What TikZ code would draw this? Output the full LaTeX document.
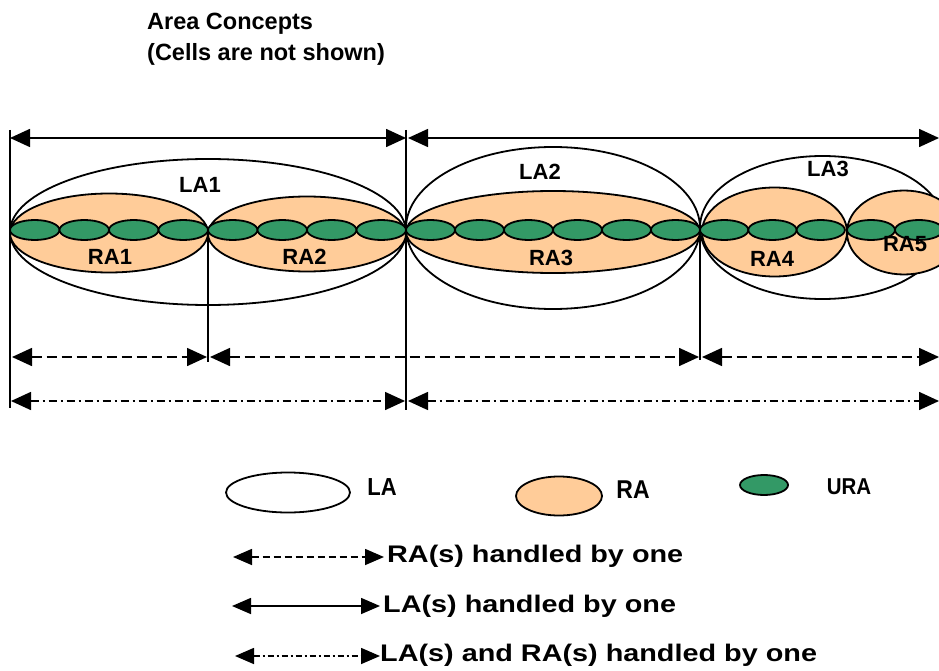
\documentclass[tikz,border=0pt]{standalone}
\usepackage{fontspec}
\setmainfont{Liberation Sans}
\newfontfamily\legfont[FakeStretch=1.2]{Liberation Sans Bold}
\usetikzlibrary{arrows.meta,shapes.geometric}
\definecolor{raorange}{RGB}{255,204,153}
\definecolor{uragreen}{RGB}{51,153,102}
\tikzset{
  base/.style={ellipse, draw=black, line width=1.8pt, inner sep=0pt, outer sep=0pt},
  laell/.style={base},
  raell/.style={base, fill=raorange},
  uraell/.style={base, fill=uragreen, minimum height=20pt},
  lbl/.style={font=\bfseries\fontsize{22}{24}\selectfont, inner sep=0pt},
  leglbl/.style={font=\bfseries\fontsize{22}{24}\selectfont, inner sep=0pt, yscale=1.12},
  legtxt/.style={font=\legfont\fontsize{24}{26}\selectfont, inner sep=0pt, anchor=base west},
  ttl/.style={font=\bfseries\fontsize{23.5}{25}\selectfont, inner sep=0pt, anchor=base west},
  vline/.style={line width=1.6pt},
  arr/.style={line width=1.6pt, {Triangle[length=20pt,width=18pt]}-{Triangle[length=20pt,width=18pt]}},
  larr/.style={line width=1.6pt, {Triangle[length=19pt,width=16pt]}-{Triangle[length=19pt,width=16pt]}},
  dsh/.style={dash pattern=on 10pt off 5pt},
  dshdot/.style={dash pattern=on 8pt off 4pt on 2pt off 4pt},
  ldsh/.style={dash pattern=on 7pt off 4pt},
  ldshdot/.style={dash pattern=on 6pt off 3pt on 2pt off 3pt}
}
\begin{document}
\begin{tikzpicture}[x=1pt,y=-1pt]
\useasboundingbox (0,0) rectangle (939,671);
\clip (0,0) rectangle (939,671);
% title
\node[ttl] (t1) at (147,30) {Area Concepts};
\node[ttl] (t2) at (147,61) {(Cells are not shown)};
% LA ellipses
\node[laell, minimum width=396pt, minimum height=146pt] (la1) at (208,232) {};
\node[laell, minimum width=294pt, minimum height=162pt] (la2) at (553,228) {};
\node[laell, minimum width=245pt, minimum height=143pt] (la3) at (822.5,227.5) {};
% RA ellipses
\node[raell, minimum width=198pt, minimum height=79pt] (ra1) at (109,233) {};
\node[raell, minimum width=198pt, minimum height=75pt] (ra2) at (307,234) {};
\node[raell, minimum width=294pt, minimum height=82pt] (ra3) at (553,232) {};
\node[raell, minimum width=145pt, minimum height=89pt] (ra4) at (774.5,232) {};
\node[raell, minimum width=114pt, minimum height=84pt] (ra5) at (904,232.5) {};
% URA ellipses
\foreach \i in {0,...,3} {
  \node[uraell, minimum width=49.5pt] (ua\i) at ({10+24.75+49.5*\i},230) {};
  \node[uraell, minimum width=49.5pt] (ub\i) at ({208+24.75+49.5*\i},230) {};
}
\foreach \i in {0,...,5} {
  \node[uraell, minimum width=49pt] (uc\i) at ({406+24.5+49*\i},230) {};
}
\foreach \i in {0,...,2} {
  \node[uraell, minimum width=48.3pt] (ud\i) at ({700+24.15+48.3*\i},230) {};
}
\foreach \i in {0,...,1} {
  \node[uraell, minimum width=48pt] (ue\i) at ({847+24+48*\i},230) {};
}
% labels
\node[lbl] (l1) at (200,184.5) {LA1};
\node[lbl] (l2) at (540,172) {LA2};
\node[lbl] (l3) at (828,168.5) {LA3};
\node[lbl] (r1) at (110,257) {RA1};
\node[lbl] (r2) at (304.5,257) {RA2};
\node[lbl] (r3) at (551,258) {RA3};
\node[lbl] (r4) at (772,259) {RA4};
\node[lbl] (r5) at (905,244.5) {RA5};
% vertical lines
\coordinate (v1a) at (10,130); \coordinate (v1b) at (10,408);
\coordinate (v2a) at (208,230); \coordinate (v2b) at (208,362);
\coordinate (v3a) at (406,130); \coordinate (v3b) at (406,410);
\coordinate (v4a) at (700,230); \coordinate (v4b) at (700,360);
\draw[vline] (v1a) -- (v1b);
\draw[vline] (v2a) -- (v2b);
\draw[vline] (v3a) -- (v3b);
\draw[vline] (v4a) -- (v4b);
% top solid arrows
\coordinate (s1a) at (10,138); \coordinate (s1b) at (406,138);
\coordinate (s2a) at (408,138); \coordinate (s2b) at (939,138);
\draw[arr] (s1a) -- (s1b);
\draw[arr] (s2a) -- (s2b);
% dashed arrows
\coordinate (d1a) at (12,357); \coordinate (d1b) at (207,357);
\coordinate (d2a) at (210,357); \coordinate (d2b) at (699,357);
\coordinate (d3a) at (702,357); \coordinate (d3b) at (939,357);
\draw[arr, dsh] (d1a) -- (d1b);
\draw[arr, dsh] (d2a) -- (d2b);
\draw[arr, dsh] (d3a) -- (d3b);
% dash-dot arrows
\coordinate (e1a) at (11,401); \coordinate (e1b) at (405,401);
\coordinate (e2a) at (408,401); \coordinate (e2b) at (939,401);
\draw[arr, dshdot] (e1a) -- (e1b);
\draw[arr, dshdot] (e2a) -- (e2b);
% legend shapes
\node[laell, minimum width=124pt, minimum height=40pt] (kla) at (288,492.5) {};
\node[raell, minimum width=86pt, minimum height=39pt] (kra) at (559,496) {};
\node[uraell, minimum width=48pt, minimum height=20pt] (kura) at (764,485) {};
\node[leglbl] (kla-t) at (382,487.5) {LA};
\node[leglbl, font=\bfseries\fontsize{23}{24}\selectfont] (kra-t) at (633,490) {RA};
\node[leglbl, font=\bfseries\fontsize{20.5}{22}\selectfont] (kura-t) at (849,487) {URA};
% legend arrows
\coordinate (ka1) at (233,557); \coordinate (kb1) at (384,557);
\coordinate (ka2) at (232,606); \coordinate (kb2) at (380,606);
\coordinate (ka3) at (235,656); \coordinate (kb3) at (380,656);
\draw[larr, ldsh] (ka1) -- (kb1);
\draw[larr] (ka2) -- (kb2);
\draw[larr, ldshdot] (ka3) -- (kb3);
\node[legtxt] (kt1) at (387,562) {RA(s) handled by one};
\node[legtxt] (kt2) at (383,612) {LA(s) handled by one};
\node[legtxt] (kt3) at (380,661) {LA(s) and RA(s) handled by one};
\end{tikzpicture}
\end{document}
